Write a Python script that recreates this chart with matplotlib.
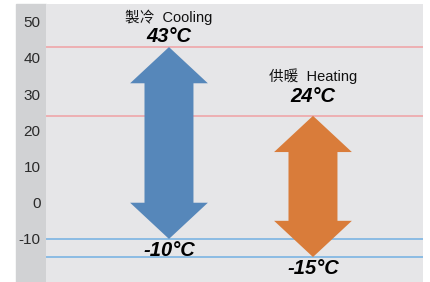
import matplotlib.pyplot as plt
from matplotlib.patches import Polygon, Rectangle

modes = ["製冷  Cooling", "供暖  Heating"]
max_temp = [43, 24]
min_temp = [-10, -15]
arrow_colors = ["#5687ba", "#d97c3a"]
yticks = [-10, 0, 10, 20, 30, 40, 50]

plt.rcParams["font.family"] = ["Liberation Sans", "Noto Sans CJK TC", "DejaVu Sans"]
plt.rcParams["axes.unicode_minus"] = False

# label offsets above the max line (name, value), in degrees
name_off = [8.3, 11.0]
val_off = [3.0, 5.3]


def double_arrow(xc, top, bottom, head_w=0.27, shaft_w=0.17, head_len=10):
    return [
        (xc, top),
        (xc + head_w, top - head_len),
        (xc + shaft_w, top - head_len),
        (xc + shaft_w, bottom + head_len),
        (xc + head_w, bottom + head_len),
        (xc, bottom),
        (xc - head_w, bottom + head_len),
        (xc - shaft_w, bottom + head_len),
        (xc - shaft_w, top - head_len),
        (xc - head_w, top - head_len),
    ]


def main():
    fig = plt.figure(figsize=(4.3, 2.82), dpi=100)
    fig.patches.append(Rectangle((16 / 430, 0), 30 / 430, 278 / 282,
                                 transform=fig.transFigure, color="#d1d2d4", zorder=-5))
    ax = fig.add_axes([46 / 430, 0, 377 / 430, 278 / 282])
    ax.set_zorder(1)
    ax.set_facecolor("#e6e6e8")
    ax.set_xlim(0.146, 2.764)
    ax.set_ylim(-21.9, 54.9)

    for t in max_temp:
        ax.axhline(t, color="#f0a0a4", lw=1.1, zorder=1)
    for t in min_temp:
        ax.axhline(t, color="#72b0e2", lw=1.1, zorder=1)

    for i, (name, hi, lo, c) in enumerate(zip(modes, max_temp, min_temp, arrow_colors)):
        xc = i + 1
        ax.add_patch(Polygon(double_arrow(xc, hi, lo), closed=True, color=c, lw=0, zorder=2))
        ax.text(xc, hi + name_off[i], name, ha="center", va="center", fontsize=10.5, color="#111111")
        ax.text(xc, hi + val_off[i], f"{hi}°C", ha="center", va="center", fontsize=14.5,
                fontweight="bold", fontstyle="italic", color="black")
        ax.text(xc, lo - 3.2, f"{lo}°C", ha="center", va="center", fontsize=14.5,
                fontweight="bold", fontstyle="italic", color="black")

    ax.set_yticks(yticks)
    ax.set_xticks([])
    ax.tick_params(axis="y", length=0, pad=4, labelsize=11, labelcolor="#2a2a2a")
    for s in ax.spines.values():
        s.set_visible(False)

    fig.savefig("out.png", dpi=100)
    plt.close(fig)


if __name__ == "__main__":
    main()
